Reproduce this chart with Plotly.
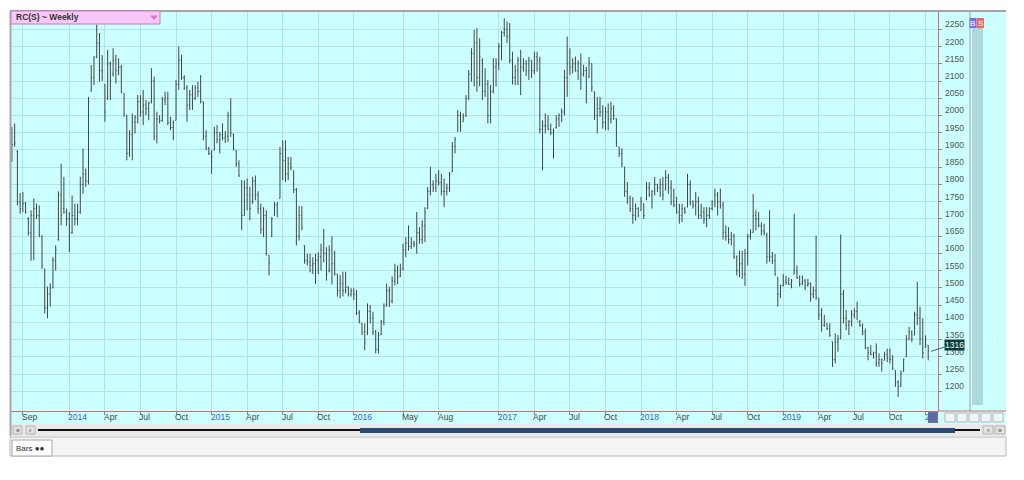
import pandas as pd
import plotly.graph_objects as go

# ---------------- data (weekly OHLC) ----------------
high = [
 1967,1977,1899,1775,1778,1749,1705,1725,1759,1745,
 1739,1652,1555,1504,1513,1589,1623,1780,1860,1822,
 1730,1720,1768,1744,1744,1822,1904,1846,2054,2146,
 2171,2263,2239,2175,2090,2190,2156,2195,2176,2166,
 2147,2064,2001,1957,2006,2001,2059,2059,2074,2045,
 2040,2137,2113,2011,2001,2054,2069,2069,1996,1986,
 2103,2200,2176,2117,2088,2074,2088,2088,2098,2117,
 2040,1957,1909,1899,1967,1972,1953,1977,1955,2011,
 2050,1948,1899,1870,1812,1812,1817,1793,1822,1826,
 1780,1744,1734,1725,1594,1705,1749,1749,1909,1928,
 1928,1880,1880,1840,1790,1737,1737,1623,1599,1599,
 1589,1599,1603,1628,1671,1618,1623,1650,1608,1540,
 1537,1547,1547,1504,1499,1499,1494,1436,1397,1397,
 1455,1450,1431,1378,1372,1407,1455,1513,1503,1533,
 1570,1565,1570,1628,1647,1681,1647,1637,1720,1676,
 1696,1734,1792,1851,1812,1831,1841,1831,1817,1802,
 1836,1923,1938,2016,2011,2006,2059,2132,2195,2248,
 2253,2224,2166,2137,2103,2088,2166,2166,2210,2245,
 2282,2273,2268,2185,2147,2170,2190,2166,2160,2170,
 2160,2185,2185,2170,1986,2006,2001,1977,1962,2001,
 2006,2020,2132,2229,2195,2166,2171,2160,2180,2147,
 2141,2170,2151,2069,2054,2054,2030,2025,2035,2040,
 2030,1991,1909,1905,1851,1807,1768,1763,1745,1734,
 1764,1744,1807,1807,1783,1822,1802,1817,1822,1841,
 1831,1812,1788,1764,1744,1744,1734,1831,1812,1754,
 1778,1764,1744,1734,1734,1734,1754,1788,1778,1788,
 1750,1681,1676,1662,1657,1594,1608,1608,1613,1657,
 1670,1772,1725,1720,1690,1686,1660,1725,1604,1598,
 1531,1509,1540,1535,1530,1526,1715,1565,1536,1536,
 1526,1526,1516,1504,1652,1470,1441,1422,1397,1397,
 1344,1368,1363,1655,1494,1436,1407,1436,1441,1460,
 1407,1397,1382,1329,1334,1315,1339,1310,1295,1315,
 1324,1324,1305,1261,1232,1261,1295,1363,1387,1377,
 1431,1518,1445,1412,1362,1334,
]
low = [
 1865,1909,1739,1715,1720,1715,1652,1579,1580,1700,
 1647,1555,1426,1412,1446,1499,1550,1637,1681,1715,
 1680,1604,1657,1681,1681,1715,1773,1793,1800,2070,
 2088,2166,2098,2100,1982,2045,2045,2113,2093,2117,
 2064,1996,1870,1880,1870,1948,1977,1996,1972,2001,
 1986,2035,1928,1919,1977,1982,2030,1972,1957,1928,
 1986,2074,2103,2074,1982,2016,2016,2045,2054,2035,
 1928,1899,1885,1831,1899,1919,1890,1928,1920,1923,
 1938,1899,1851,1822,1667,1710,1725,1696,1744,1754,
 1715,1657,1647,1594,1536,1647,1710,1705,1759,1812,
 1807,1812,1841,1775,1623,1637,1667,1570,1565,1545,
 1540,1511,1540,1550,1574,1521,1545,1510,1536,1475,
 1470,1475,1484,1475,1475,1465,1421,1397,1363,1319,
 1363,1397,1363,1310,1310,1363,1392,1445,1445,1455,
 1507,1511,1531,1550,1589,1608,1613,1618,1599,1628,
 1628,1633,1729,1768,1778,1778,1797,1768,1734,1768,
 1778,1836,1890,1953,1953,1982,1996,2045,2098,2084,
 2069,2084,2045,2054,1977,1977,2064,2084,2132,2160,
 2229,2210,2151,2090,2088,2088,2059,2127,2115,2103,
 2108,2120,2127,1948,1841,1948,1957,1943,1875,1962,
 1967,1980,2000,2054,2117,2122,2127,2103,2074,2113,
 2035,2110,2069,1987,1948,1996,1962,1957,1957,1977,
 1987,1909,1880,1850,1764,1744,1720,1686,1695,1705,
 1725,1700,1754,1764,1730,1768,1778,1764,1754,1783,
 1773,1740,1734,1715,1686,1691,1715,1734,1739,1730,
 1710,1700,1700,1686,1676,1700,1725,1734,1710,1730,
 1640,1637,1628,1623,1584,1536,1531,1526,1506,1565,
 1640,1660,1667,1676,1652,1652,1570,1575,1569,1535,
 1446,1470,1504,1509,1509,1499,1540,1526,1504,1508,
 1494,1504,1460,1470,1465,1407,1373,1387,1378,1358,
 1271,1281,1315,1352,1397,1378,1363,1388,1412,1407,
 1387,1363,1322,1290,1305,1295,1271,1271,1257,1290,
 1285,1281,1262,1213,1184,1213,1257,1300,1348,1342,
 1363,1392,1334,1295,1327,1290,
]
open_ = [
 1960,1915,1895,1750,1730,1745,1700,1660,1710,1730,
 1710,1650,1555,1442,1482,1500,1580,1640,1770,1730,
 1720,1700,1660,1710,1700,1720,1800,1830,1810,2070,
 2110,2170,2210,2130,2090,2050,2150,2120,2160,2130,
 2140,2064,2001,1890,1945,1980,1995,2040,2010,2030,
 2020,2040,2100,1940,1990,1985,2045,2050,1980,1965,
 1986,2090,2160,2110,2080,2030,2060,2050,2080,2070,
 2040,1940,1905,1890,1900,1950,1930,1945,1935,1940,
 2000,1945,1899,1860,1810,1710,1790,1770,1750,1810,
 1770,1730,1670,1710,1594,1650,1710,1740,1760,1890,
 1870,1830,1860,1840,1785,1650,1710,1623,1580,1575,
 1565,1570,1580,1590,1610,1600,1550,1610,1570,1540,
 1492,1512,1492,1502,1482,1492,1482,1427,1397,1372,
 1372,1432,1412,1372,1322,1365,1402,1452,1492,1462,
 1520,1550,1535,1555,1610,1630,1620,1630,1625,1660,
 1640,1680,1730,1780,1800,1790,1810,1805,1780,1780,
 1790,1836,1910,1953,2000,1982,2000,2050,2120,2180,
 2210,2110,2160,2070,2090,2000,2070,2140,2150,2200,
 2240,2250,2230,2160,2110,2130,2160,2140,2150,2130,
 2160,2130,2170,2160,1960,1970,1970,1960,1950,1965,
 1990,2000,2010,2110,2150,2140,2150,2130,2150,2120,
 2130,2110,2150,2069,2000,2020,2010,1980,2010,1990,
 2020,1991,1909,1890,1851,1780,1760,1730,1710,1730,
 1725,1744,1760,1790,1770,1780,1800,1790,1800,1783,
 1820,1790,1750,1740,1720,1710,1730,1734,1800,1750,
 1740,1750,1710,1720,1700,1710,1730,1750,1770,1750,
 1740,1660,1650,1640,1650,1590,1550,1570,1540,1600,
 1650,1660,1710,1700,1680,1665,1652,1590,1590,1580,
 1531,1482,1507,1520,1515,1510,1540,1550,1530,1512,
 1520,1507,1512,1482,1492,1470,1422,1392,1397,1382,
 1344,1292,1342,1352,1482,1412,1392,1402,1422,1432,
 1402,1392,1372,1327,1312,1307,1312,1282,1292,1290,
 1307,1297,1292,1261,1227,1215,1257,1300,1352,1372,
 1363,1422,1412,1352,1327,1334,
]
close = [
 1915,1920,1750,1730,1745,1720,1660,1710,1730,1710,
 1655,1565,1442,1482,1500,1580,1610,1770,1710,1720,
 1700,1660,1710,1700,1720,1800,1830,1810,2040,2110,
 2170,2210,2130,2110,2010,2150,2100,2160,2130,2140,
 2070,2005,1890,1945,1980,1995,2040,2010,2030,2020,
 2035,2100,1940,1990,1985,2045,2050,1980,1965,1980,
 2090,2160,2110,2080,2030,2060,2050,2080,2070,2040,
 1940,1905,1890,1880,1950,1930,1945,1935,1940,2000,
 1950,1905,1860,1825,1710,1790,1770,1730,1810,1770,
 1730,1670,1710,1600,1570,1700,1740,1745,1890,1870,
 1830,1860,1850,1785,1650,1710,1675,1580,1575,1565,
 1570,1580,1590,1610,1600,1540,1610,1570,1540,1492,
 1512,1492,1502,1482,1492,1482,1427,1402,1372,1342,
 1432,1412,1372,1322,1362,1402,1447,1492,1462,1520,
 1550,1530,1555,1610,1630,1620,1630,1625,1660,1640,
 1680,1720,1780,1800,1790,1810,1805,1780,1780,1790,
 1830,1910,1930,2000,1970,1995,2050,2120,2180,2210,
 2110,2170,2070,2090,2000,2070,2140,2150,2200,2240,
 2250,2230,2160,2110,2130,2160,2140,2150,2130,2160,
 2130,2170,2160,1960,1970,1970,1960,1950,1955,1990,
 2000,2010,2110,2150,2140,2150,2130,2150,2120,2130,
 2070,2150,2080,2000,2020,2010,1980,2010,1990,2020,
 2000,1920,1890,1860,1780,1760,1730,1710,1730,1710,
 1750,1710,1790,1770,1780,1800,1790,1800,1770,1820,
 1790,1750,1740,1720,1710,1730,1720,1800,1750,1740,
 1750,1710,1720,1700,1710,1730,1750,1770,1750,1740,
 1660,1650,1640,1650,1590,1550,1570,1540,1600,1650,
 1660,1710,1700,1680,1665,1660,1590,1590,1580,1540,
 1482,1507,1520,1515,1510,1520,1550,1530,1512,1520,
 1507,1512,1482,1492,1472,1422,1392,1402,1382,1362,
 1292,1342,1352,1482,1412,1392,1402,1422,1432,1402,
 1392,1372,1327,1312,1307,1312,1282,1292,1282,1307,
 1297,1292,1267,1227,1212,1252,1292,1352,1372,1352,
 1422,1412,1352,1312,1352,1316,
]
first_bar = "2013-08-09"          # first weekly bar
last_price = 1316

tick_months = ["2013-09", "2014-01", "2014-04", "2014-07", "2014-10",
               "2015-01", "2015-04", "2015-07", "2015-10",
               "2016-01", "2016-05", "2016-08",
               "2017-01", "2017-04", "2017-07", "2017-10",
               "2018-01", "2018-04", "2018-07", "2018-10",
               "2019-01", "2019-04", "2019-07", "2019-10", "2020-01"]
tick_labels = ["Sep", "2014", "Apr", "Jul", "Oct",
               "2015", "Apr", "Jul", "Oct",
               "2016", "May", "Aug",
               "2017", "Apr", "Jul", "Oct",
               "2018", "Apr", "Jul", "Oct",
               "2019", "Apr", "Jul", "Oct", "20"]
y_ticks = list(range(1200, 2300, 50))
title_text = "RC(S) ~ Weekly"

# ---------------- geometry (page pixels; the page body has an 8px margin) ----------------
OFF = 8
L, R, T, B = 10, 938, 11, 411
W, H = 1024 - OFF, 480 - OFF


def xp(px):
    return (px - L) / (R - L)


def yp(py):
    return (B - py) / (B - T)


dates = pd.date_range(first_bar, periods=len(high), freq="7D")
x_start = dates[0] - pd.Timedelta(days=4.9)
x_end = dates[0] + pd.Timedelta(days=2370)

# tick at first bar of each labelled period
tick_dates = []
for m in tick_months:
    d0 = pd.Timestamp(m + "-01")
    cand = dates[dates >= d0]
    tick_dates.append(cand[0] if len(cand) else d0)

BAR = "#454545"
RED = "#d46a6a"
CYAN = "#ccffff"
GRID = "#b1e3e8"

fig = go.Figure()
fig.add_trace(go.Ohlc(
    x=dates, open=open_, high=high, low=low, close=close,
    increasing=dict(line=dict(color=BAR, width=1)),
    decreasing=dict(line=dict(color=BAR, width=1)),
    tickwidth=0.3, showlegend=False, hoverinfo="skip",
))

shapes = []


def rect(x0, y0, x1, y1, fill, line=None, lw=1, layer="below"):
    shapes.append(dict(type="rect", xref="paper", yref="paper",
                       x0=xp(x0), x1=xp(x1), y0=yp(y0), y1=yp(y1),
                       fillcolor=fill, layer=layer,
                       line=dict(color=line or fill, width=lw if line else 0)))


def hline(x0, x1, y, color, w=1, layer="above"):
    shapes.append(dict(type="line", xref="paper", yref="paper",
                       x0=xp(x0), x1=xp(x1), y0=yp(y), y1=yp(y),
                       line=dict(color=color, width=w), layer=layer))


def vline(x, y0, y1, color, w=1, layer="above"):
    shapes.append(dict(type="line", xref="paper", yref="paper",
                       x0=xp(x), x1=xp(x), y0=yp(y0), y1=yp(y1),
                       line=dict(color=color, width=w), layer=layer))


# cyan areas outside plot
rect(938, 11, 1006, 411, CYAN)
rect(10, 411, 1006, 424, CYAN)
# right panel strip
vline(970, 11, 411, "#a89a9a")
rect(972, 28, 983, 405, "#acd9d9", layer="above")
rect(969.5, 18, 976.5, 28, "#7272ee", layer="above")
rect(976.5, 18, 984, 28, "#ee6a6a", layer="above")
# scrollbar row
rect(10, 424, 1006, 436, "#e9e9e9")
rect(13, 426, 22, 434, "#e2e2e2", "#b4b4b4", layer="above")
rect(26, 426, 35, 434, "#e2e2e2", "#b4b4b4", layer="above")
rect(983, 426, 993, 434, "#e2e2e2", "#b4b4b4", layer="above")
rect(995, 426, 1005, 434, "#e2e2e2", "#b4b4b4", layer="above")
hline(38, 980, 430, "#111111", 2)
rect(360, 428, 955, 433, "#2b4a72", layer="above")
# bottom panel and tab
rect(10, 437, 1006, 456, "#f4f4f4", "#b8b8b8")
rect(12, 440, 52, 456, "#fbfbfb", "#a8a8a8", layer="above")
# small buttons right of x axis
rect(928, 412, 938, 423, "#6c6c9c", layer="above")
for bx in [945, 957, 969, 981, 993]:
    rect(bx, 413, bx + 10, 422, "#f2f6f8", "#b4b4b4", layer="above")
# borders
hline(10, 1006, 11, "#a4a4a4", 2)
vline(10.5, 11, 436, "#a8a8a8", 2)
hline(938, 1006, 411, RED, 1)
# title box
rect(11, 11, 160, 24, "#f7c8f7", "#c47ac4", layer="above")
shapes.append(dict(type="path", xref="paper", yref="paper",
                   path=f"M {xp(150)},{yp(15.5)} L {xp(158)},{yp(15.5)} L {xp(154)},{yp(20)} Z",
                   fillcolor="#e070e0", line=dict(width=0), layer="above"))
# connector from last bar to price label
shapes.append(dict(type="line", xref="paper", yref="y",
                   x0=xp(931), x1=xp(944), y0=last_price, y1=last_price + 12,
                   line=dict(color="#3a6a6a", width=1), layer="above"))

FONT = "Liberation Sans, Arial, sans-serif"
ann = []
for d, t in zip(tick_dates, tick_labels):
    is_year = t.isdigit()
    ann.append(dict(x=d, xref="x", y=0, yref="paper", text=t, showarrow=False,
                    xanchor="left", yanchor="top", xshift=-2, yshift=0, borderpad=0,
                    font=dict(family=FONT, size=8.5,
                              color="#3a62c8" if is_year else "#444444")))
for v in y_ticks:
    ann.append(dict(x=xp(943), xref="paper", y=v, yref="y", text=str(v),
                    showarrow=False, xanchor="left", yanchor="bottom", yshift=-2,
                    font=dict(family=FONT, size=8.5, color="#555555")))
ann.append(dict(x=xp(944), xref="paper", y=last_price, yref="y",
                text=str(last_price), showarrow=False, xanchor="left",
                yanchor="bottom", bgcolor="#0c3a3a", borderpad=0,
                font=dict(family=FONT, size=8.5, color="#ffffff")))
ann.append(dict(x=xp(14), xref="paper", y=yp(17.5), yref="paper",
                text="<b>" + title_text + "</b>", showarrow=False,
                xanchor="left", yanchor="middle",
                font=dict(family=FONT, size=8.5, color="#333333")))
ann.append(dict(x=xp(973), xref="paper", y=yp(23), yref="paper", text="B",
                showarrow=False, borderpad=0, xanchor="center", yanchor="middle",
                font=dict(family=FONT, size=8, color="#ffffff")))
ann.append(dict(x=xp(980.3), xref="paper", y=yp(23), yref="paper", text="S",
                showarrow=False, borderpad=0, xanchor="center", yanchor="middle",
                font=dict(family=FONT, size=8, color="#ffffff")))
ann.append(dict(x=xp(15), xref="paper", y=yp(448), yref="paper",
                text="Bars <b>●●</b>", showarrow=False, xanchor="left",
                yanchor="middle", borderpad=0,
                font=dict(family=FONT, size=8, color="#333333")))
for tx, gx in [("«", 17.5), ("‹", 30.5), ("›", 988), ("»", 1000)]:
    ann.append(dict(x=xp(gx), xref="paper", y=yp(430), yref="paper", text=tx,
                    showarrow=False, borderpad=0, xanchor="center", yanchor="middle",
                    font=dict(family=FONT, size=7, color="#333333")))

fig.update_layout(
    width=W, height=H,
    margin=dict(l=L - OFF, r=(1024 - R), t=T - OFF, b=(480 - B), pad=0),
    paper_bgcolor="#ffffff", plot_bgcolor=CYAN,
    hovermode=False, showlegend=False,
    shapes=shapes, annotations=ann,
    xaxis=dict(type="date", range=[x_start, x_end], tickvals=tick_dates,
               showticklabels=False, ticks="outside", ticklen=3, tickcolor="#888888",
               showgrid=True, gridcolor=GRID, gridwidth=1, zeroline=False,
               showline=True, linecolor=RED, linewidth=1,
               rangeslider=dict(visible=False), fixedrange=True),
    yaxis=dict(side="right", range=[1143, 2303], tickvals=y_ticks,
               showticklabels=False, ticks="outside", ticklen=3, tickcolor="#888888",
               showgrid=True, gridcolor=GRID, gridwidth=1, zeroline=False,
               showline=True, linecolor=RED, linewidth=1, fixedrange=True),
)

fig.write_html("out.html")
